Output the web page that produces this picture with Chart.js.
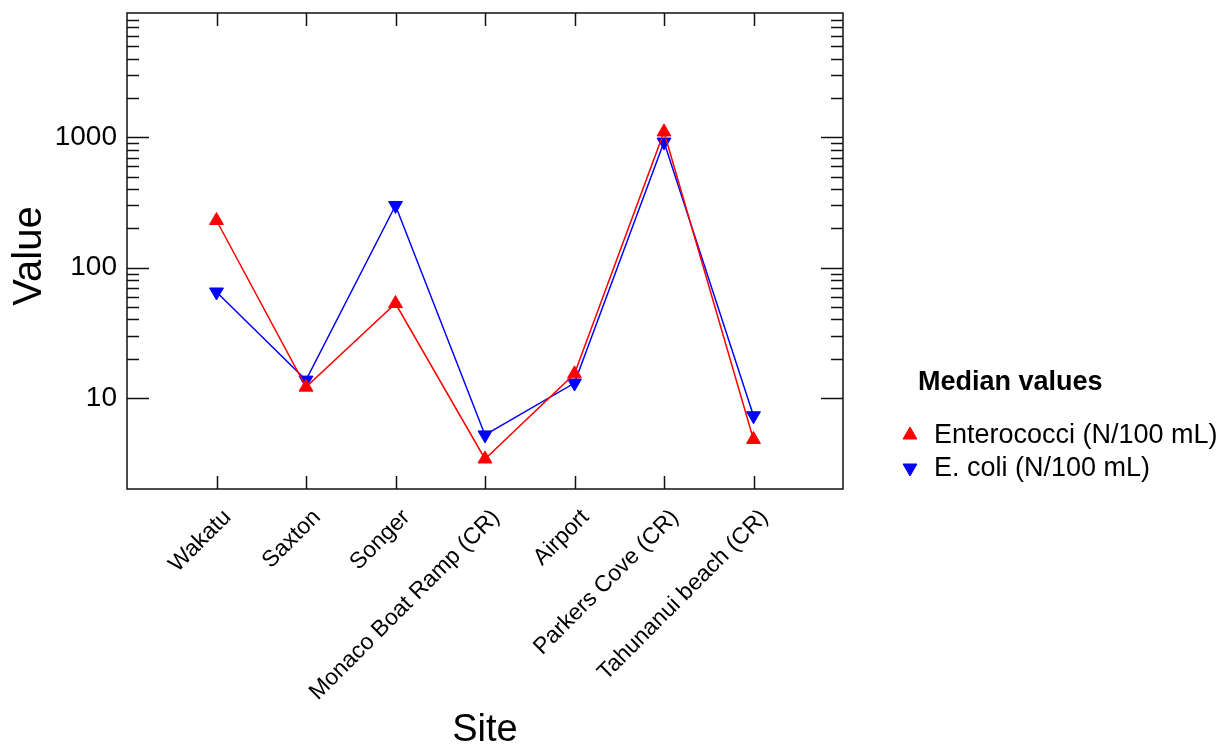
<!DOCTYPE html>
<html>
<head>
<meta charset="utf-8">
<script src="https://cdn.jsdelivr.net/npm/chart.js@4/dist/chart.umd.min.js"></script>
<style>
  html, body { margin: 0; padding: 0; background: #fff; }
  #wrap { width: 1229px; height: 752px; }
</style>
</head>
<body>
<div id="wrap"><canvas id="chart" width="1229" height="752"></canvas></div>
<script>
// ===== data =====
const sites = [
  "Wakatu", "Saxton", "Songer", "Monaco Boat Ramp (CR)",
  "Airport", "Parkers Cove (CR)", "Tahunanui beach (CR)"
];
const sitePos = [1, 2, 3, 4, 5, 6, 7];
const enterococci = [230, 12.1, 53, 3.4, 15.3, 1100, 4.8];
const ecoli = [65, 13.7, 300, 5.2, 13, 920, 7.3];
const yMajor = [10, 100, 1000];
const yMinor = [20, 30, 40, 50, 60, 70, 80, 90,
                200, 300, 400, 500, 600, 700, 800, 900,
                2000, 3000, 4000, 5000, 6000, 7000, 8000];
const legendTitle = "Median values";
const xTitle = "Site";
const yTitle = "Value";

const FONT = '"Liberation Sans", Arial, sans-serif';
Chart.defaults.font.family = FONT;
Chart.defaults.color = "#000";

const toPoints = (vals) => vals.map((v, i) => ({ x: sitePos[i], y: v }));

// ===== frame, inward ticks, titles, legend =====
const decor = {
  id: "decor",
  afterDraw(chart) {
    const { ctx, chartArea: a, scales } = chart;
    const xs = scales.x, ys = scales.y;
    ctx.save();
    ctx.strokeStyle = "#111";
    ctx.lineWidth = 1.5;
    ctx.strokeRect(a.left, a.top, a.right - a.left, a.bottom - a.top);

    ctx.beginPath();
    // x ticks (bottom and top, pointing in)
    sitePos.forEach((v) => {
      const px = Math.round(xs.getPixelForValue(v)) + 0.5;
      ctx.moveTo(px, a.bottom); ctx.lineTo(px, a.bottom - 13);
      ctx.moveTo(px, a.top); ctx.lineTo(px, a.top + 13);
    });
    // y ticks (left and right)
    const yTick = (v, len) => {
      const py = Math.round(ys.getPixelForValue(v)) + 0.5;
      ctx.moveTo(a.left, py); ctx.lineTo(a.left + len, py);
      ctx.moveTo(a.right, py); ctx.lineTo(a.right - len, py);
    };
    yMajor.forEach((v) => yTick(v, 22));
    yMinor.forEach((v) => yTick(v, 12));
    ctx.stroke();

    // axis titles
    ctx.fillStyle = "#000";
    ctx.textAlign = "center";
    ctx.textBaseline = "middle";
    ctx.font = `38px ${FONT}`;
    ctx.fillText(xTitle, (a.left + a.right) / 2, 731);
    ctx.save();
    ctx.translate(30, (a.top + a.bottom) / 2 + 5);
    ctx.rotate(-Math.PI / 2);
    ctx.font = `40px ${FONT}`;
    ctx.fillText(yTitle, 0, 0);
    ctx.restore();

    // legend
    ctx.textAlign = "left";
    ctx.font = `bold 27px ${FONT}`;
    ctx.fillText(legendTitle, 918, 383);
    ctx.font = `27px ${FONT}`;
    chart.data.datasets.forEach((ds, i) => {
      const y = 435 + i * 33;
      ctx.fillStyle = ds.backgroundColor;
      ctx.strokeStyle = ds.borderColor;
      ctx.lineWidth = 1;
      Chart.helpers.drawPoint(ctx, {
        pointStyle: ds.pointStyle, rotation: ds.pointRotation,
        radius: 8, borderWidth: 1
      }, 910, y);
      ctx.fillStyle = "#000";
      ctx.fillText(ds.label, 934, y + 1);
    });
    ctx.restore();
  }
};

new Chart(document.getElementById("chart"), {
  type: "line",
  data: {
    datasets: [
      {
        label: "Enterococci (N/100 mL)",
        data: toPoints(enterococci),
        borderColor: "#ff0000",
        backgroundColor: "#ff0000",
        borderWidth: 1.5,
        pointStyle: "triangle",
        pointRotation: 0,
        pointRadius: 8,
        pointBorderWidth: 1,
        tension: 0
      },
      {
        label: "E. coli (N/100 mL)",
        data: toPoints(ecoli),
        borderColor: "#0000ff",
        backgroundColor: "#0000ff",
        borderWidth: 1.5,
        pointStyle: "triangle",
        pointRotation: 180,
        pointRadius: 8,
        pointBorderWidth: 1,
        tension: 0
      }
    ]
  },
  options: {
    responsive: false,
    animation: false,
    devicePixelRatio: 1,
    layout: { padding: { left: 0, top: 13, right: 386, bottom: 0 } },
    plugins: { legend: { display: false }, tooltip: { enabled: false } },
    scales: {
      x: {
        type: "linear",
        min: 0,
        max: 8,
        afterBuildTicks: (s) => { s.ticks = sitePos.map((v) => ({ value: v })); },
        afterFit: (s) => { s.height = 752 - 489; },
        grid: { display: false, drawTicks: true, tickLength: 10 },
        border: { display: false },
        ticks: {
          autoSkip: false,
          minRotation: 45,
          maxRotation: 45,
          padding: 5,
          labelOffset: 11,
          font: { size: 23 },
          color: "#000",
          callback: (v, i) => sites[i]
        }
      },
      y: {
        type: "logarithmic",
        min: 2,
        max: 9000,
        afterBuildTicks: (s) => { s.ticks = yMajor.map((v) => ({ value: v })); },
        afterFit: (s) => { s.width = 127; },
        grid: { display: false, drawTicks: true, tickLength: 10 },
        border: { display: false },
        ticks: {
          padding: 0,
          font: { size: 28, lineHeight: 0.9 },
          color: "#000",
          callback: (v) => String(v)
        }
      }
    }
  },
  plugins: [decor]
});
</script>
</body>
</html>
